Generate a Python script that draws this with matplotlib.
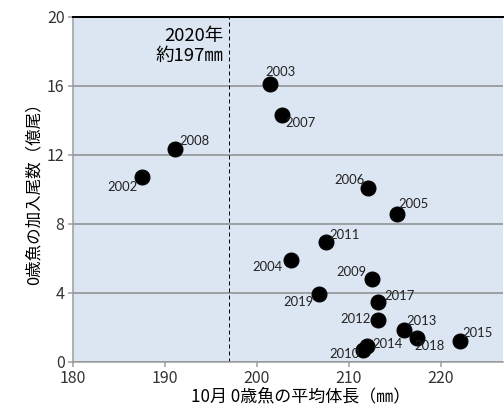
import matplotlib.pyplot as plt

plt.rcParams['font.family'] = ['Noto Sans CJK JP', 'DejaVu Sans']

# Data
years = ['2002', '2003', '2004', '2005', '2006', '2007', '2008', '2009', '2010',
         '2011', '2012', '2013', '2014', '2015', '2017', '2018', '2019']
length_mm = [187.5, 201.4, 203.7, 215.3, 212.1, 202.7, 191.1, 212.5, 211.6,
             207.5, 213.2, 216.0, 212.0, 222.1, 213.2, 217.4, 206.8]
recruits = [10.7, 16.1, 5.9, 8.6, 10.1, 14.3, 12.35, 4.8, 0.7,
            6.95, 2.45, 1.85, 0.9, 1.2, 3.45, 1.37, 3.95]

# label offsets (points) and alignment for each year
label_pos = {
    '2002': (-4, -4, 'right', 'top'),
    '2008': (4, 2, 'left', 'bottom'),
    '2003': (-4, 6, 'left', 'bottom'),
    '2007': (4, -2, 'left', 'top'),
    '2006': (-3, 2, 'right', 'bottom'),
    '2005': (1, 4, 'left', 'bottom'),
    '2011': (4, 1, 'left', 'bottom'),
    '2004': (-8, -1, 'right', 'top'),
    '2009': (-5, 1, 'right', 'bottom'),
    '2019': (-6, -2, 'right', 'top'),
    '2017': (6, 0, 'left', 'bottom'),
    '2012': (-7, 1, 'right', 'center'),
    '2013': (3, 3, 'left', 'bottom'),
    '2018': (-2, -2, 'left', 'top'),
    '2015': (3, 2, 'left', 'bottom'),
    '2014': (5, 2, 'left', 'center'),
    '2010': (-4, -4, 'right', 'center'),
}

fig = plt.figure(figsize=(7, 5.75), dpi=72)
ax = fig.add_axes([0.145, 0.126, 0.853, 0.833])
ax.set_facecolor('#dce6f2')

ax.scatter(length_mm, recruits, s=225, color='black', zorder=3)
for yr, x, y in zip(years, length_mm, recruits):
    dx, dy, ha, va = label_pos[yr]
    ax.annotate(yr, (x, y), xytext=(dx, dy), textcoords='offset points',
                ha=ha, va=va, fontsize=13, family=['Lato', 'DejaVu Sans'],
                color='#222222', zorder=4)

ax.axvline(197, color='black', linestyle=(0, (4, 3)), linewidth=1, zorder=2)
ax.text(196.4, 19.4, '2020年\n約197㎜', ha='right', va='top', fontsize=18.5,
        linespacing=1.1, zorder=4)

ax.set_xlim(180, 226.8)
ax.set_ylim(0, 20)
ax.set_xticks([180, 190, 200, 210, 220])
ax.set_yticks([0, 4, 8, 12, 16, 20])
ax.yaxis.grid(True, color='#8c8c8c', linewidth=1.5)
ax.set_axisbelow(True)

for s in ['left', 'bottom']:
    ax.spines[s].set_color('#9a9a9a')
    ax.spines[s].set_linewidth(1.5)
ax.spines['right'].set_visible(False)
ax.spines['top'].set_color('black')
ax.spines['top'].set_linewidth(2)
ax.tick_params(axis='both', colors='#9a9a9a', labelcolor='#333333',
               labelsize=16, length=5, width=1.5)

ax.set_xlabel('10月 0歳魚の平均体長（㎜）', fontsize=17, labelpad=0)
ax.xaxis.set_label_coords(0.53, -0.075)
ax.set_ylabel('0歳魚の加入尾数（億尾）', fontsize=16.5, labelpad=4)

plt.savefig('out.png', dpi=72)
